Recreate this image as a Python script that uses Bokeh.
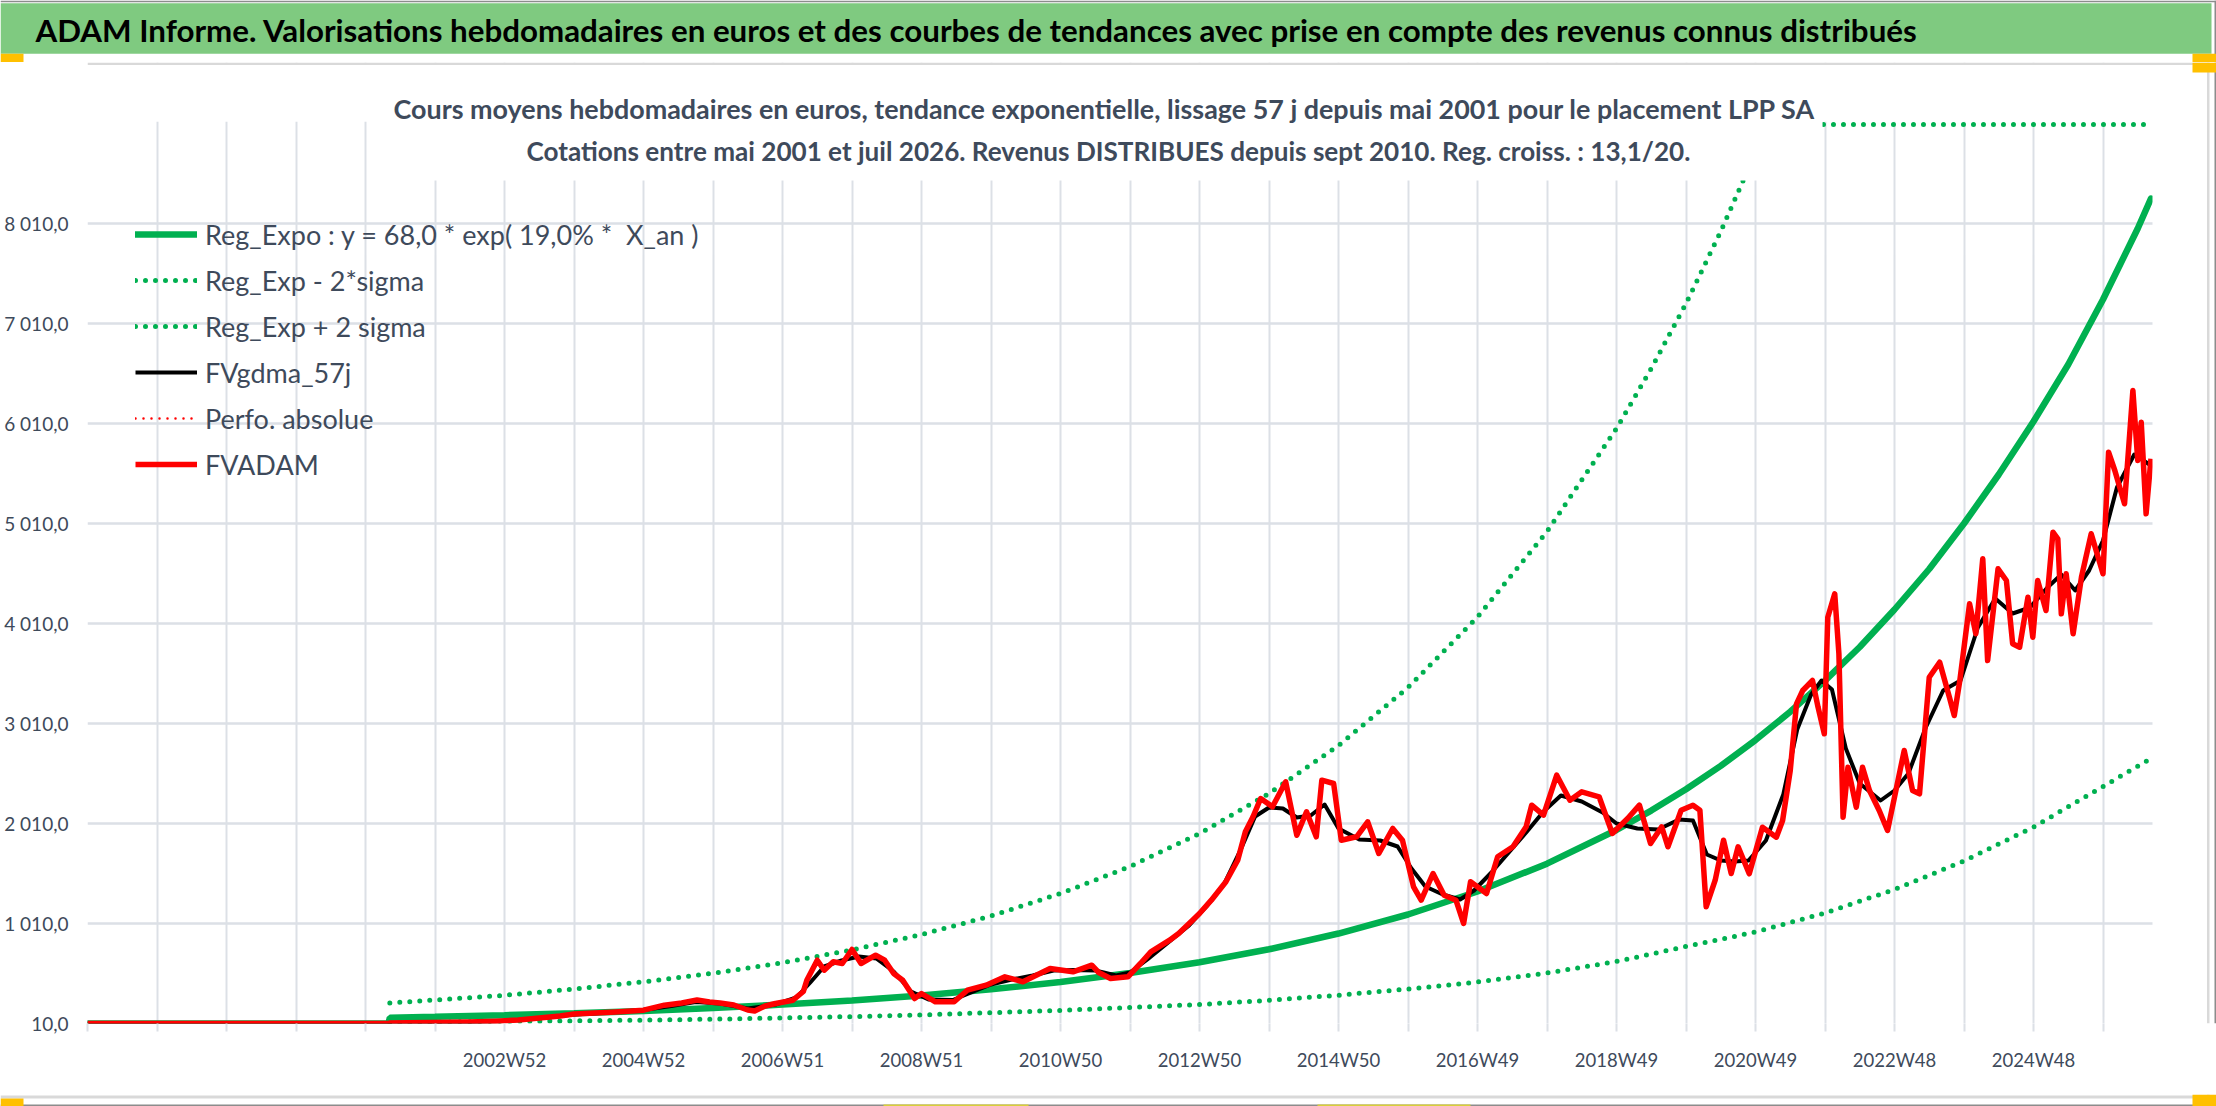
from bokeh.plotting import figure
from bokeh.layouts import column
from bokeh.models import (FixedTicker, Legend, LegendItem, Label, BoxAnnotation, Range1d)
from bokeh.embed import file_html
from bokeh.resources import INLINE

# ---------------- data ----------------
header_text = ("ADAM Informe. Valorisations hebdomadaires en euros et des courbes de tendances "
               "avec prise en compte des revenus connus distribués")
title_line1 = ("Cours moyens hebdomadaires en euros, tendance exponentielle, lissage 57 j "
               "depuis mai 2001 pour le placement LPP SA")
title_line2 = ("Cotations entre mai 2001 et juil 2026. Revenus DISTRIBUES depuis sept 2010. "
               "Reg. croiss. : 13,1/20.")

# x positions are decimal years (one gridline per category tick of 52 weeks)
x_gridlines = list(range(1997, 2027))
x_tick_labels = {2003: "2002W52", 2005: "2004W52", 2007: "2006W51", 2009: "2008W51",
                 2011: "2010W50", 2013: "2012W50", 2015: "2014W50", 2017: "2016W49",
                 2019: "2018W49", 2021: "2020W49", 2023: "2022W48", 2025: "2024W48"}
y_ticks = [10, 1010, 2010, 3010, 4010, 5010, 6010, 7010, 8010]
y_tick_labels = ["10,0", "1 010,0", "2 010,0", "3 010,0", "4 010,0", "5 010,0",
                 "6 010,0", "7 010,0", "8 010,0"]

reg_year = [1997.0, 2001.33, 2001.35, 2002, 2003, 2004, 2005, 2006, 2007, 2008, 2009,
            2010, 2011, 2012, 2013, 2014, 2015, 2016, 2017, 2018, 2019, 2019.5, 2020,
            2020.5, 2021, 2021.5, 2022, 2022.5, 2023, 2023.5, 2024, 2024.5, 2025, 2025.5,
            2026, 2026.5, 2026.69]
reg_value = [10, 10, 68, 76.9, 93.0, 112.5, 136.0, 164.5, 198.9, 240.6, 290.9,
             351.8, 425.4, 514.4, 622.0, 752.2, 909.6, 1100, 1330, 1608, 1945, 2139, 2352,
             2586, 2844, 3128, 3439, 3775, 4150, 4555, 5010, 5500, 6030, 6600,
             7250, 7960, 8260]

up_year = [2001.35, 2002, 2003, 2004, 2005, 2006, 2007, 2008, 2009, 2010, 2011, 2012,
           2013, 2014, 2015, 2016, 2017, 2018, 2019, 2019.5, 2020, 2020.5, 2021, 2021.12,
           2022, 2023, 2024, 2025, 2026, 2026.69]
up_value = [215, 245, 292, 355, 427, 512, 617, 746, 900, 1085, 1310, 1580,
            1910, 2310, 2790, 3370, 4075, 4930, 5960, 6560, 7210, 7930, 8720, 9000,
            9000, 9000, 9000, 9000, 9000, 9000]

low_year = [2001.35, 2002, 2003, 2004, 2005, 2006, 2007, 2008, 2009, 2010, 2011, 2012,
            2013, 2014, 2015, 2016, 2017, 2018, 2019, 2020, 2021, 2022, 2023, 2024,
            2025, 2026, 2026.69]
low_value = [22, 25, 30, 36, 44, 53, 66, 79, 96, 118, 141, 170,
             200, 242, 293, 355, 425, 515, 630, 780, 925, 1115, 1350, 1635,
             1975, 2380, 2660]

gdma_year = [1997.0, 2001.33, 2001.35, 2002.0, 2002.5, 2002.9, 2003.3, 2003.7, 2004.0,
             2004.5, 2005.0, 2005.4, 2005.75, 2006.1, 2006.5, 2006.9, 2007.2, 2007.4,
             2007.6, 2007.85, 2008.1, 2008.35, 2008.6, 2008.85, 2009.1, 2009.45, 2009.75,
             2010.0, 2010.3, 2010.6, 2010.9, 2011.2, 2011.5, 2011.8, 2012.0, 2012.25,
             2012.55, 2012.85, 2013.1, 2013.35, 2013.6, 2013.8, 2014.0, 2014.2, 2014.4,
             2014.6, 2014.8, 2015.0, 2015.3, 2015.6, 2015.85, 2016.05, 2016.25, 2016.5,
             2016.75, 2016.95, 2017.2, 2017.45, 2017.7, 2017.95, 2018.2, 2018.5, 2018.8,
             2019.0, 2019.3, 2019.6, 2019.9, 2020.1, 2020.3, 2020.5, 2020.7, 2020.9,
             2021.15, 2021.4, 2021.6, 2021.8, 2021.95, 2022.1, 2022.3, 2022.5, 2022.8,
             2023.0, 2023.2, 2023.45, 2023.7, 2023.95, 2024.2, 2024.45, 2024.7, 2024.95,
             2025.2, 2025.4, 2025.6, 2025.8, 2026.0, 2026.2, 2026.45, 2026.69]
gdma_value = [10, 10, 15, 20, 24, 32, 50, 78, 100,
              120, 145, 185, 225, 210, 160, 200, 270, 420,
              580, 640, 680, 660, 530, 330, 250, 245, 330,
              400, 450, 490, 540, 545, 540, 490, 520, 650,
              820, 990, 1180, 1400, 1760, 2080, 2170, 2160, 2070,
              2090, 2200, 1960, 1850, 1840, 1780, 1560, 1380, 1300,
              1250, 1340, 1520, 1720, 1920, 2130, 2290, 2230, 2120,
              2010, 1960, 1950, 2050, 2040, 1700, 1640, 1630, 1640,
              1840, 2300, 2950, 3300, 3440, 3350, 2760, 2410, 2240,
              2340, 2510, 2970, 3340, 3440, 3970, 4260, 4110, 4170,
              4370, 4500, 4340, 4540, 4840, 5370, 5700, 5590]

perfo_year = [1997.0]
perfo_value = [10]

adam_year = [1997.0, 2001.33, 2001.35, 2001.6, 2001.9, 2002.2, 2002.5, 2002.87, 2003.2,
             2003.5, 2003.8, 2004.0, 2004.3, 2004.6, 2005.0, 2005.3, 2005.55, 2005.77,
             2005.95, 2006.1, 2006.3, 2006.5, 2006.6, 2006.75, 2006.9, 2007.15, 2007.3,
             2007.35, 2007.5, 2007.6, 2007.73, 2007.86, 2008.0, 2008.13, 2008.34, 2008.47,
             2008.6, 2008.73, 2008.9, 2009.0, 2009.2, 2009.47, 2009.66, 2009.93, 2010.2,
             2010.46, 2010.85, 2011.18, 2011.45, 2011.55, 2011.72, 2011.97, 2012.15,
             2012.3, 2012.57, 2012.7, 2012.9, 2013.0, 2013.17, 2013.38, 2013.55, 2013.66,
             2013.77, 2013.88, 2014.05, 2014.24, 2014.4, 2014.54, 2014.68, 2014.76,
             2014.93, 2015.04, 2015.26, 2015.42, 2015.58, 2015.78, 2015.92, 2016.08,
             2016.19, 2016.36, 2016.52, 2016.69, 2016.8, 2016.9, 2017.13, 2017.29,
             2017.51, 2017.7, 2017.78, 2017.95, 2018.14, 2018.33, 2018.5, 2018.75,
             2018.94, 2019.16, 2019.33, 2019.49, 2019.65, 2019.74, 2019.93, 2020.1,
             2020.2, 2020.29, 2020.42, 2020.54, 2020.65, 2020.75, 2020.91, 2021.1,
             2021.3, 2021.39, 2021.5, 2021.59, 2021.68, 2021.82, 2021.9, 2021.99,
             2022.04, 2022.14, 2022.2, 2022.26, 2022.33, 2022.45, 2022.54, 2022.64,
             2022.78, 2022.9, 2023.02, 2023.14, 2023.26, 2023.36, 2023.5, 2023.65,
             2023.79, 2023.86, 2023.94, 2024.08, 2024.17, 2024.27, 2024.34, 2024.49,
             2024.61, 2024.7, 2024.8, 2024.92, 2024.99, 2025.06, 2025.18, 2025.28,
             2025.35, 2025.4, 2025.47, 2025.57, 2025.69, 2025.83, 2025.93, 2026.0,
             2026.08, 2026.17, 2026.31, 2026.43, 2026.5, 2026.55, 2026.62, 2026.69]
adam_value = [10, 10, 15, 18, 20, 22, 25, 33, 45,
              65, 85, 105, 115, 125, 143, 193, 215, 245,
              225, 215, 195, 145, 135, 185, 210, 243, 330,
              443, 643, 543, 627, 610, 750, 610, 693, 643,
              510, 443, 260, 310, 227, 227, 343, 393, 477,
              427, 560, 527, 593, 520, 460, 477, 610,
              727, 843, 910, 1043, 1110, 1243, 1427, 1643, 1927,
              2077, 2260, 2177, 2427, 1893, 2127, 1877, 2443,
              2410, 1843, 1877, 2027, 1710, 1960, 1843, 1377,
              1243, 1510, 1293, 1243, 1010, 1427, 1310, 1677,
              1777, 1977, 2193, 2093, 2493, 2243, 2327, 2277,
              1910, 2060, 2193, 1810, 1977, 1777, 2143, 2193,
              2143, 1177, 1443, 1843, 1510, 1777, 1507, 1973,
              1873, 2040, 2540, 3207, 3340, 3440, 3173, 2907,
              4073, 4307, 3707, 2073, 2573, 2173, 2573, 2340,
              2140, 1940, 2340, 2740, 2340, 2307, 3473, 3623,
              3273, 3090, 3440, 4207, 3907, 4657, 3640, 4557,
              4440, 3807, 3773, 4273, 3873, 4440, 4140, 4923,
              4857, 4107, 4507, 3907, 4473, 4907, 4673, 4507,
              5723, 5540, 5207, 6340, 5640, 6023, 5107, 5657]

# ---------------- styling constants ----------------
GREEN = "#00B050"
SLATE = "#3E4A5B"
GRID = "#DCE0E6"
BORDER = "#D9D9D9"
OUTER = "#8C8C8C"
ORANGE = "#FFC000"
FONT = "Lato"
W = 2216


def box(fig, **kw):
    fig.add_layout(BoxAnnotation(fill_alpha=1, line_alpha=0, **kw))


# ---------------- header strip (page rows 0..62) ----------------
h = figure(width=W, height=62, x_range=Range1d(0, W), y_range=Range1d(62, 0),
           output_backend="svg", toolbar_location=None, min_border=0,
           x_axis_location=None, y_axis_location=None, outline_line_color=None,
           background_fill_color="white", border_fill_color="white")
h.frame_align = False
h.grid.visible = False
box(h, left=0, right=W, top=0, bottom=1.8, fill_color=OUTER)
box(h, left=0, right=2211, top=2.7, bottom=53.3, fill_color="#7FCA80")
box(h, left=2214, right=W, top=0, bottom=62, fill_color=OUTER)
box(h, left=0, right=23, top=53.3, bottom=62, fill_color=ORANGE)
box(h, left=2192, right=W, top=53.3, bottom=62, fill_color=ORANGE)
h.add_layout(Label(x=35, y=29.5, text=header_text, text_align="left",
                   text_baseline="middle", text_font=FONT, text_font_style="bold",
                   text_font_size="31.3px", text_color="black"))

# ---------------- main chart (page rows 62..1094) ----------------
X0 = 1997.0
XR = 1997.0 + (W - 87) / 69.5       # frame reaches the right page edge
Y0 = 10
YT = 10 + (1023 - 62) * 10.0        # frame top at page row 62

p = figure(width=W, height=1032, x_range=Range1d(X0, XR), y_range=Range1d(Y0, YT),
           output_backend="svg", toolbar_location=None,
           min_border_left=87, min_border_right=0, min_border_top=0,
           min_border_bottom=71, background_fill_color="white",
           border_fill_color="white", outline_line_color=None)
p.frame_align = False

p.xaxis.ticker = FixedTicker(ticks=x_gridlines)
p.xaxis.major_label_overrides = {y: x_tick_labels.get(y, "") for y in x_gridlines}
p.xaxis.axis_line_color = None
p.xaxis.major_tick_out = 8
p.xaxis.major_tick_in = 0
p.xaxis.major_tick_line_color = GRID
p.xaxis.major_tick_line_width = 2
p.xaxis.minor_tick_line_color = None
p.xaxis.major_label_standoff = 17
p.xaxis.major_label_text_font = FONT
p.xaxis.major_label_text_font_size = "18.5px"
p.xaxis.major_label_text_color = SLATE

p.yaxis.ticker = FixedTicker(ticks=y_ticks)
p.yaxis.major_label_overrides = dict(zip(y_ticks, y_tick_labels))
p.yaxis.axis_line_color = None
p.yaxis.major_tick_line_color = None
p.yaxis.minor_tick_line_color = None
p.yaxis.major_tick_out = 0
p.yaxis.major_tick_in = 0
p.yaxis.major_label_standoff = 19
p.yaxis.major_label_text_font = FONT
p.yaxis.major_label_text_font_size = "19px"
p.yaxis.major_label_text_color = SLATE

p.xgrid.grid_line_color = GRID
p.xgrid.grid_line_width = 2
p.ygrid.grid_line_color = GRID
p.ygrid.grid_line_width = 2.5

r_reg = p.line(reg_year, reg_value, line_color=GREEN, line_width=6.5, line_cap="round")
r_low = p.line(low_year, low_value, line_color=GREEN, line_width=5, line_dash="0 10",
               line_cap="round")
r_up = p.line(up_year, up_value, line_color=GREEN, line_width=5, line_dash="0 10",
              line_cap="round")
r_gdma = p.line(gdma_year, gdma_value, line_color="black", line_width=4, line_join="round")
r_perfo = p.line(perfo_year, perfo_value, line_color="#FF0000", line_width=2.5,
                 line_dash="0 8", line_cap="round")
r_adam = p.line(adam_year, adam_value, line_color="#FF0000", line_width=5.5,
                line_join="round")

legend = Legend(items=[
    LegendItem(label="Reg_Expo : y = 68,0 * exp( 19,0% *  X_an )", renderers=[r_reg]),
    LegendItem(label="Reg_Exp - 2*sigma", renderers=[r_low]),
    LegendItem(label="Reg_Exp + 2 sigma", renderers=[r_up]),
    LegendItem(label="FVgdma_57j", renderers=[r_gdma]),
    LegendItem(label="Perfo. absolue", renderers=[r_perfo]),
    LegendItem(label="FVADAM", renderers=[r_adam]),
], location=(48, 536), orientation="vertical")
legend.background_fill_alpha = 0
legend.border_line_alpha = 0
legend.padding = 0
legend.margin = 0
legend.spacing = 0
legend.glyph_width = 62
legend.glyph_height = 46
legend.label_height = 46
legend.label_standoff = 8
legend.label_text_font = FONT
legend.label_text_font_size = "27px"
legend.label_text_color = SLATE
p.add_layout(legend)


# helpers converting page pixel positions to data units (layout only)
def px_x(px):
    return X0 + (px - 87) / 69.5


def px_y(py):
    return Y0 + (1023 - py) * 10.0


# white masks: above the plot area and right of it
box(p, bottom=px_y(121.2), fill_color="white")
box(p, left=px_x(2152), fill_color="white")
# chart area borders and handle
box(p, bottom=px_y(64.5), right=px_x(2209), fill_color=BORDER)
box(p, left=px_x(2206.5), right=px_x(2209), fill_color=BORDER)
box(p, left=px_x(2214), fill_color=OUTER)
box(p, left=px_x(2192), bottom=px_y(72), fill_color=ORANGE)
# chart title with its white box
box(p, left=px_x(380), right=px_x(1822), bottom=px_y(180), top=px_y(66),
    fill_color="white")
p.add_layout(Label(x=px_x(1104), y=px_y(108), text=title_line1, text_align="center",
                   text_baseline="middle", text_font=FONT, text_font_style="bold",
                   text_font_size="26.9px", text_color=SLATE))
p.add_layout(Label(x=px_x(1108), y=px_y(150), text=title_line2, text_align="center",
                   text_baseline="middle", text_font=FONT, text_font_style="bold",
                   text_font_size="26.1px", text_color=SLATE))

# ---------------- footer strip (page rows 1094..1106) ----------------
f = figure(width=W, height=12, x_range=Range1d(0, W), y_range=Range1d(12, 0),
           output_backend="svg", toolbar_location=None, min_border=0,
           x_axis_location=None, y_axis_location=None, outline_line_color=None,
           background_fill_color="white", border_fill_color="white")
f.frame_align = False
f.grid.visible = False
box(f, left=0, right=2209, top=1, bottom=4, fill_color=BORDER)
box(f, left=2206.5, right=2209, top=0, bottom=4, fill_color=BORDER)
box(f, left=0, right=W, top=10, bottom=12, fill_color=OUTER)
box(f, left=883, right=1028, top=10, bottom=12, fill_color="#D9CF3A")
box(f, left=1317, right=1470, top=10, bottom=12, fill_color="#D9CF3A")
box(f, left=0, right=23, top=4, bottom=12, fill_color=ORANGE)
box(f, left=2192, right=W, top=0, bottom=12, fill_color=ORANGE)

layout = column(h, p, f, spacing=0)
open("out.html", "w").write(file_html(layout, INLINE))
